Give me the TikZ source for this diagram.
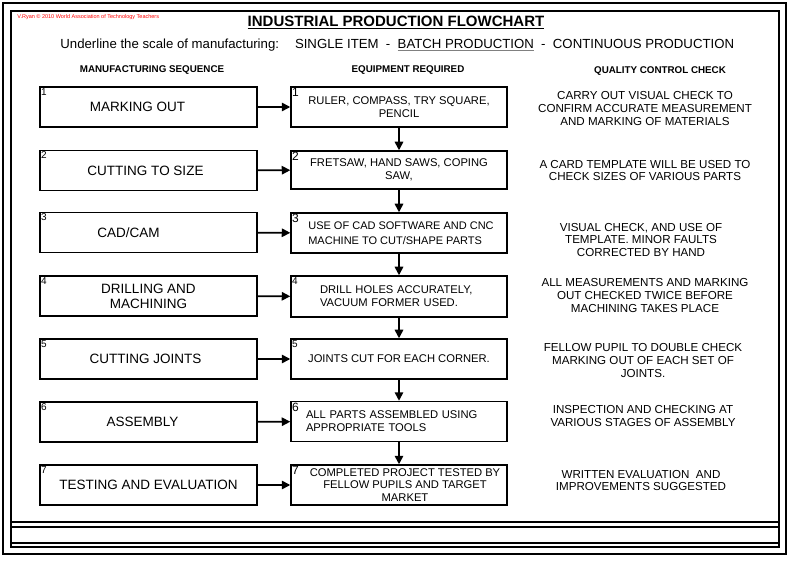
\documentclass[tikz,border=0pt]{standalone}
\usepackage{fontspec}
\setmainfont{Liberation Sans}
\usetikzlibrary{arrows.meta, positioning}

\tikzset{
	seqnum/.style={label={[anchor=north west, inner sep=1.5pt, font=\fontsize{10}{10}\selectfont]north west:#1}},
	eqnum/.style={label={[anchor=north west, inner sep=1.5pt, font=\fontsize{12}{12}\selectfont]north west:#1}}
}

\begin{document}
\begin{tikzpicture}[x=1pt, y=-1pt, thick]
		% Define styles
		\tikzstyle{stage} = [draw, line width=1.5pt, rectangle, minimum width=217pt, minimum height=40pt, inner sep=0pt, align=center, font=\fontsize{13.5}{15}\selectfont]
		\tikzstyle{equip} = [draw, line width=1.5pt, rectangle, minimum width=216pt, minimum height=40pt, inner sep=0pt, align=center, font=\fontsize{11.2}{12.8}\selectfont]
		\tikzstyle{check} = [align=center, inner sep=0pt, font=\fontsize{11.6}{12.6}\selectfont]
		\tikzstyle{head} = [inner sep=0pt, font=\fontsize{9.8}{10}\selectfont\bfseries]
		\tikzstyle{line} = [draw, line width=1.6pt, -{Triangle[length=8.5pt, width=8.5pt]}]
		\tikzstyle{frame} = [draw, line width=1.3pt]

		\useasboundingbox (0,0) rectangle (790,561);

		% Page border
		\draw [frame] (3,3) rectangle (786,554);
		\draw [frame] (11,11) rectangle (779,547);
		\draw [frame] (11,522) -- (779,522);
		\draw [frame] (11,527) -- (779,527);
		\draw [frame] (11,543) -- (779,543);

		% Heading
		\node [red, anchor=west, inner sep=0pt, font=\fontsize{5.5}{6}\selectfont] (credit) at (17,17) {V.Ryan \textcopyright\ 2010 World Association of Technology Teachers};
		\node [inner sep=0pt, font=\fontsize{15}{16}\selectfont\bfseries] (title) at (396,22) {\underline{INDUSTRIAL PRODUCTION FLOWCHART}};
		\node [anchor=west, inner sep=0pt, font=\fontsize{13.2}{15}\selectfont] (scale) at (60,45) {Underline the scale of manufacturing:\hspace{16pt}SINGLE ITEM\ \ -\ \ {\color{gray}\underline{\color{black}BATCH PRODUCTION}}\ \ -\ \ CONTINUOUS PRODUCTION};

		% Column headings
		\node [head] (seqhead) at (152,70) {MANUFACTURING SEQUENCE};
		\node [head] (eqhead) at (408,70) {EQUIPMENT REQUIRED};
		\node [head] (qchead) at (660,71) {QUALITY CONTROL CHECK};

		% Manufacturing sequence
		\node [stage, seqnum=1] (seq1) at (148.5,107) {MARKING OUT\hspace*{22pt}};
		\node [stage, seqnum=2] (seq2) at (148.5,170.5) {CUTTING TO SIZE\hspace*{6pt}};
		\node [stage, seqnum=3] (seq3) at (148.5,232.5) {CAD/CAM\hspace*{40pt}};
		\node [stage, seqnum=4] (seq4) at (148.5,296) {DRILLING AND\\MACHINING};
		\node [stage, seqnum=5] (seq5) at (148.5,359) {CUTTING JOINTS\hspace*{6pt}};
		\node [stage, seqnum=6] (seq6) at (148.5,422) {ASSEMBLY\hspace*{12pt}};
		\node [stage, seqnum=7] (seq7) at (148.5,485) {TESTING AND EVALUATION};

		% Equipment required
		\node [equip, eqnum=1] (eq1) at (399,107) {RULER, COMPASS, TRY SQUARE,\\PENCIL};
		\node [equip, eqnum=2, minimum height=38pt] (eq2) at (399,170) {FRETSAW, HAND SAWS, COPING\\SAW,};
		\node [equip, eqnum=3, align=left, font=\fontsize{11}{12.8}\selectfont] (eq3) at (399,233) {\hspace*{4pt}USE OF CAD SOFTWARE AND CNC\\[2pt]\hspace*{4pt}MACHINE TO CUT/SHAPE PARTS};
		\node [equip, seqnum=4, text width=158pt, align=left, minimum height=41pt] (eq4) at (399,296.5) {DRILL HOLES ACCURATELY,\\VACUUM FORMER USED.\\[3pt]};
		\node [equip, seqnum=5] (eq5) at (399,359) {JOINTS CUT FOR EACH CORNER.};
		\node [equip, eqnum=6, text width=186pt, align=left] (eq6) at (399,421.5) {ALL PARTS ASSEMBLED USING\\APPROPRIATE TOOLS\\[2pt]};
		\node [equip, eqnum=7] (eq7) at (399,485) {\hspace*{12pt}COMPLETED PROJECT TESTED BY\\\hspace*{12pt}FELLOW PUPILS AND TARGET\\\hspace*{12pt}MARKET};

		% Quality control check
		\node [check] (qc1) at (645,108.5) {CARRY OUT VISUAL CHECK TO\\CONFIRM ACCURATE MEASUREMENT\\AND MARKING OF MATERIALS};
		\node [check] (qc2) at (645,170.5) {A CARD TEMPLATE WILL BE USED TO\\CHECK SIZES OF VARIOUS PARTS};
		\node [check] (qc3) at (641,240) {VISUAL CHECK, AND USE OF\\TEMPLATE. MINOR FAULTS\\CORRECTED BY HAND};
		\node [check] (qc4) at (645,295.5) {ALL MEASUREMENTS AND MARKING\\OUT CHECKED TWICE BEFORE\\MACHINING TAKES PLACE};
		\node [check] (qc5) at (643,360.5) {FELLOW PUPIL TO DOUBLE CHECK\\MARKING OUT OF EACH SET OF\\JOINTS.};
		\node [check] (qc6) at (643,416) {INSPECTION AND CHECKING AT\\VARIOUS STAGES OF ASSEMBLY};
		\node [check] (qc7) at (641,480.5) {WRITTEN EVALUATION\ \ AND\\IMPROVEMENTS SUGGESTED};

		% Arrows
		\foreach \i in {1,...,7}
			\draw [line] (seq\i) -- (eq\i);
		\foreach \i [evaluate=\i as \j using int(\i+1)] in {1,...,6}
			\draw [line] (eq\i) -- (eq\j);

	\end{tikzpicture}
\end{document}
